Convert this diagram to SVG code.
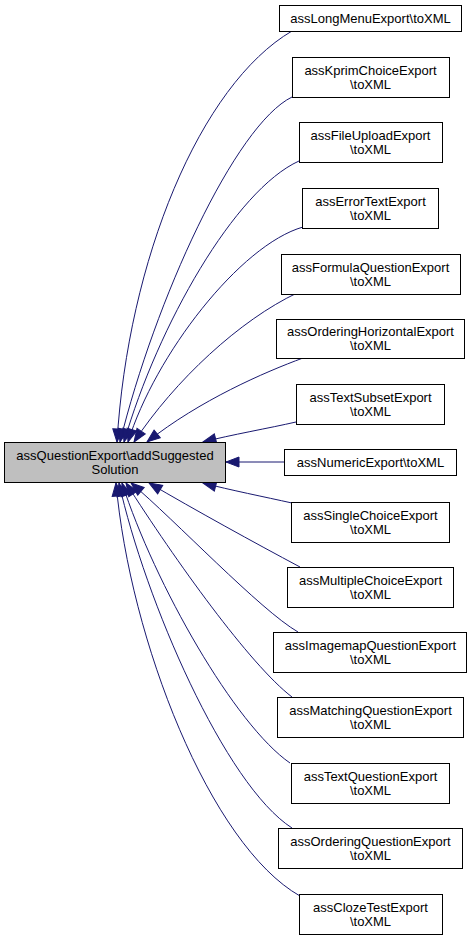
<svg xmlns="http://www.w3.org/2000/svg" width="473" height="939" viewBox="0 0 473 939">
<style>
.n rect{fill:#fff;stroke:#000;stroke-width:1}
.m rect{fill:#bfbfbf;stroke:#000;stroke-width:1}
text{font-family:"Liberation Sans",Arial,Helvetica,sans-serif;font-size:13px;fill:#000;text-anchor:middle}
.e path{fill:none;stroke:#191970;stroke-width:1;marker-end:url(#ah)}
</style>
<defs>
<marker id="ah" markerWidth="13" markerHeight="10" refX="13" refY="5" orient="auto" markerUnits="userSpaceOnUse" viewBox="0 0 13 10" overflow="visible">
<path d="M0,0 L13,5 L0,10 Z" fill="#191970" stroke="#191970" stroke-width="1"/>
</marker>
</defs>
<rect width="473" height="939" fill="#fff"/>
<g id="edges" class="e">
<path d="M292,31 C200,85 128,260 117,442"/>
<path d="M292,97 C235,125 155,300 120,442"/>
<path d="M299,161 C235,190 158,325 124,442"/>
<path d="M303,227 C240,245 155,355 128,442"/>
<path d="M297,293 C240,320 175,380 134,442"/>
<path d="M303,358 C265,372 200,400 147,442"/>
<path d="M296,422 C270,428 230,435 203,442"/>
<path d="M285,462 L226,462"/>
<path d="M292,503 C265,497 230,490 203,483"/>
<path d="M300,567 C255,543 195,510 149,483"/>
<path d="M298,632 C260,610 175,520 131,483"/>
<path d="M292,697 C250,665 175,560 126,483"/>
<path d="M290,763 C235,725 155,585 122,483"/>
<path d="M292,828 C225,785 145,600 119,483"/>
<path d="M300,896 C210,845 130,640 116,483"/>
</g>
<g id="main" class="m"><rect x="4.5" y="442.5" width="221" height="40"/><text x="115" y="459.5">assQuestionExport\addSuggested</text><text x="115" y="473.5">Solution</text></g>
<g id="n1" class="n"><rect x="279.5" y="5.5" width="182" height="26"/><text x="370.5" y="23">assLongMenuExport\toXML</text></g>
<g id="n2" class="n"><rect x="292.5" y="57.5" width="157" height="40"/><text x="370.5" y="74.5">assKprimChoiceExport</text><text x="370.5" y="88.5">\toXML</text></g>
<g id="n3" class="n"><rect x="299.5" y="122.5" width="143" height="40"/><text x="370.5" y="139.5">assFileUploadExport</text><text x="370.5" y="153.5">\toXML</text></g>
<g id="n4" class="n"><rect x="302.5" y="188.5" width="136" height="40"/><text x="370.5" y="205.5">assErrorTextExport</text><text x="370.5" y="219.5">\toXML</text></g>
<g id="n5" class="n"><rect x="281.5" y="254.5" width="179" height="40"/><text x="370.5" y="271.5">assFormulaQuestionExport</text><text x="370.5" y="285.5">\toXML</text></g>
<g id="n6" class="n"><rect x="276.5" y="319.5" width="188" height="39"/><text x="370.5" y="336">assOrderingHorizontalExport</text><text x="370.5" y="350">\toXML</text></g>
<g id="n7" class="n"><rect x="296.5" y="384.5" width="148" height="40"/><text x="370.5" y="401.5">assTextSubsetExport</text><text x="370.5" y="415.5">\toXML</text></g>
<g id="n8" class="n"><rect x="284.5" y="449.5" width="172" height="26"/><text x="370.5" y="467">assNumericExport\toXML</text></g>
<g id="n9" class="n"><rect x="291.5" y="502.5" width="158" height="40"/><text x="370.5" y="519.5">assSingleChoiceExport</text><text x="370.5" y="533.5">\toXML</text></g>
<g id="n10" class="n"><rect x="287.5" y="567.5" width="166" height="40"/><text x="370.5" y="584.5">assMultipleChoiceExport</text><text x="370.5" y="598.5">\toXML</text></g>
<g id="n11" class="n"><rect x="273.5" y="632.5" width="193" height="40"/><text x="370.5" y="649.5">assImagemapQuestionExport</text><text x="370.5" y="663.5">\toXML</text></g>
<g id="n12" class="n"><rect x="277.5" y="697.5" width="186" height="40"/><text x="370.5" y="714.5">assMatchingQuestionExport</text><text x="370.5" y="728.5">\toXML</text></g>
<g id="n13" class="n"><rect x="291.5" y="763.5" width="158" height="40"/><text x="370.5" y="780.5">assTextQuestionExport</text><text x="370.5" y="794.5">\toXML</text></g>
<g id="n14" class="n"><rect x="278.5" y="828.5" width="184" height="40"/><text x="370.5" y="845.5">assOrderingQuestionExport</text><text x="370.5" y="859.5">\toXML</text></g>
<g id="n15" class="n"><rect x="299.5" y="894.5" width="143" height="40"/><text x="370.5" y="911.5">assClozeTestExport</text><text x="370.5" y="925.5">\toXML</text></g>
</svg>
